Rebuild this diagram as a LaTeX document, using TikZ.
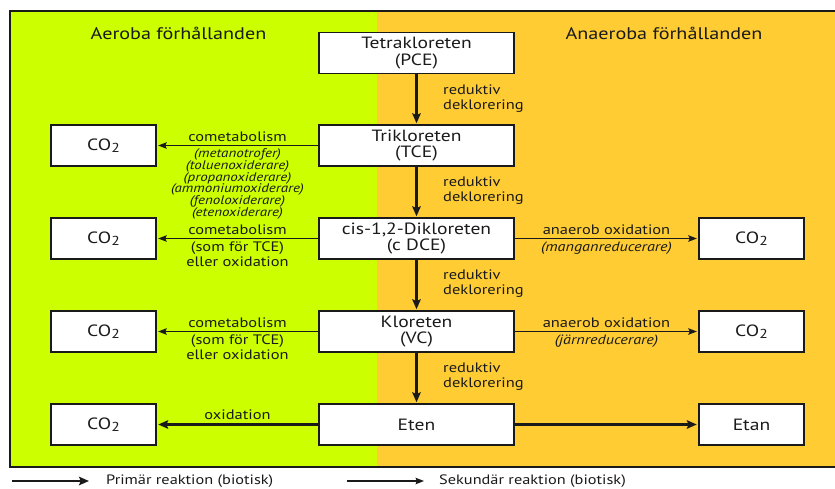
\documentclass[tikz,border=0pt]{standalone}
\usepackage{fontspec}
\setmainfont[FakeStretch=1.2]{PT Sans}
\usetikzlibrary{arrows.meta}
\definecolor{aerogreen}{HTML}{CCFF00}
\definecolor{anaeroorange}{HTML}{FFCC33}
\definecolor{ink}{HTML}{1A1A1A}
\newcommand\cotwo{CO\raisebox{-0.32ex}{\fontsize{13}{13}\selectfont 2}}
\begin{document}
\begin{tikzpicture}[x=1pt,y=-1pt,
  box/.style={draw=ink, line width=1.4pt, fill=white, minimum width=195pt, minimum height=41pt,
    align=center, inner sep=0pt, text=ink, font=\fontsize{16.3}{16.7}\selectfont},
  sidebox/.style={box, minimum width=105pt},
  primary/.style={draw=ink, line width=2.2pt, -{Stealth[length=10pt,width=8.5pt,inset=1.8pt]}},
  secondary/.style={draw=ink, line width=1.1pt, -{Stealth[length=8.5pt,width=6.5pt,inset=1.4pt]}},
  lbl/.style={inner sep=0pt, align=center, text=ink, font=\fontsize{13.7}{15}\selectfont},
  ilbl/.style={inner sep=0pt, align=center, text=ink, font=\fontsize{12.5}{11.8}\selectfont\itshape},
  ilblb/.style={ilbl, font=\fontsize{13.5}{15}\selectfont\itshape},
  rlbl/.style={inner sep=0pt, align=left, text=ink, font=\fontsize{13.7}{15}\selectfont, anchor=west},
  title/.style={inner sep=0pt, anchor=base, text=ink, font=\fontsize{16.8}{18}\selectfont},
  legend/.style={inner sep=0pt, anchor=base west, text=ink, font=\fontsize{13.6}{15}\selectfont}
]
\useasboundingbox (0,0) rectangle (835,488);
\fill[white] (0,0) rectangle (835,488);
% backgrounds
\fill[aerogreen] (10,11) rectangle (377,467);
\fill[anaeroorange] (377,11) rectangle (835,467);
\draw[ink, line width=1.6pt] (835,11) -- (10,11) -- (10,467) -- (835,467);
% titles
\node[title] (taero) at (178.5,39.5) {Aeroba förhållanden};
\node[title] (tanaero) at (664,39.5) {Anaeroba förhållanden};
% central boxes
\node[box] (pce) at (416.5,53) {Tetrakloreten\\(PCE)};
\node[box] (tce) at (416.5,145.5) {Trikloreten\\(TCE)};
\node[box] (dce) at (416.5,238.5) {cis-1,2-Dikloreten\\(c DCE)};
\node[box] (vc) at (416.5,331.5) {Kloreten\\(VC)};
\node[box] (eten) at (416.5,424.5) {Eten};
% left boxes
\node[sidebox] (co2a) at (103.5,145.5) {\cotwo};
\node[sidebox] (co2b) at (103.5,238.5) {\cotwo};
\node[sidebox] (co2c) at (103.5,331.5) {\cotwo};
\node[sidebox] (co2d) at (103.5,424.5) {\cotwo};
% right boxes
\node[sidebox] (co2e) at (751.5,238.5) {\cotwo};
\node[sidebox] (co2f) at (751.5,331.5) {\cotwo};
\node[sidebox] (etan) at (751.5,424.5) {Etan};
% vertical primary arrows
\draw[primary, shorten >=1pt] (pce) -- (tce);
\draw[primary, shorten >=1pt] (tce) -- (dce);
\draw[primary, shorten >=1pt] (dce) -- (vc);
\draw[primary, shorten >=1pt] (vc) -- (eten);
\node[rlbl] (r1) at (443,99) {reduktiv\\deklorering};
\node[rlbl] (r2) at (443,191) {reduktiv\\deklorering};
\node[rlbl] (r3) at (443,284) {reduktiv\\deklorering};
\node[rlbl] (r4) at (443,377) {reduktiv\\deklorering};
% left secondary arrows
\draw[secondary, shorten >=1.5pt] (tce.west) -- (co2a.east)
  node[midway, lbl, above=3pt] (l1a) {cometabolism}
  node[midway, ilbl, below=2.5pt] (l1b) {(metanotrofer)\\(toluenoxiderare)\\(propanoxiderare)\\(ammoniumoxiderare)\\(fenoloxiderare)\\(etenoxiderare)};
\draw[secondary, shorten >=1.5pt] (dce.west) -- (co2b.east)
  node[midway, lbl, above=3pt] (l2a) {cometabolism}
  node[midway, lbl, below=2.5pt] (l2b) {(som för TCE)\\eller oxidation};
\draw[secondary, shorten >=1.5pt] (vc.west) -- (co2c.east)
  node[midway, lbl, above=3pt] (l3a) {cometabolism}
  node[midway, lbl, below=2.5pt] (l3b) {(som för TCE)\\eller oxidation};
\draw[primary, shorten >=1.5pt] (eten.west) -- (co2d.east)
  node[midway, lbl, above=4pt] (l4a) {oxidation};
% right arrows
\draw[secondary, shorten >=1.5pt] (dce.east) -- (co2e.west)
  node[midway, lbl, above=3pt] (r5a) {anaerob oxidation}
  node[midway, ilblb, below=2.5pt] (r5b) {(manganreducerare)};
\draw[secondary, shorten >=1.5pt] (vc.east) -- (co2f.west)
  node[midway, lbl, above=3pt] (r6a) {anaerob oxidation}
  node[midway, ilblb, below=2.5pt] (r6b) {(järnreducerare)};
\draw[primary, shorten >=1.5pt] (eten.east) -- (etan.west);
% legend
\coordinate (lg1s) at (12,481);
\coordinate (lg1e) at (89,481);
\coordinate (lg2s) at (347,481);
\coordinate (lg2e) at (424,481);
\draw[primary] (lg1s) -- (lg1e);
\draw[secondary] (lg2s) -- (lg2e);
\node[legend] (lgt1) at (106,484.3) {Primär reaktion (biotisk)};
\node[legend] (lgt2) at (439,484.3) {Sekundär reaktion (biotisk)};
\end{tikzpicture}
\end{document}
